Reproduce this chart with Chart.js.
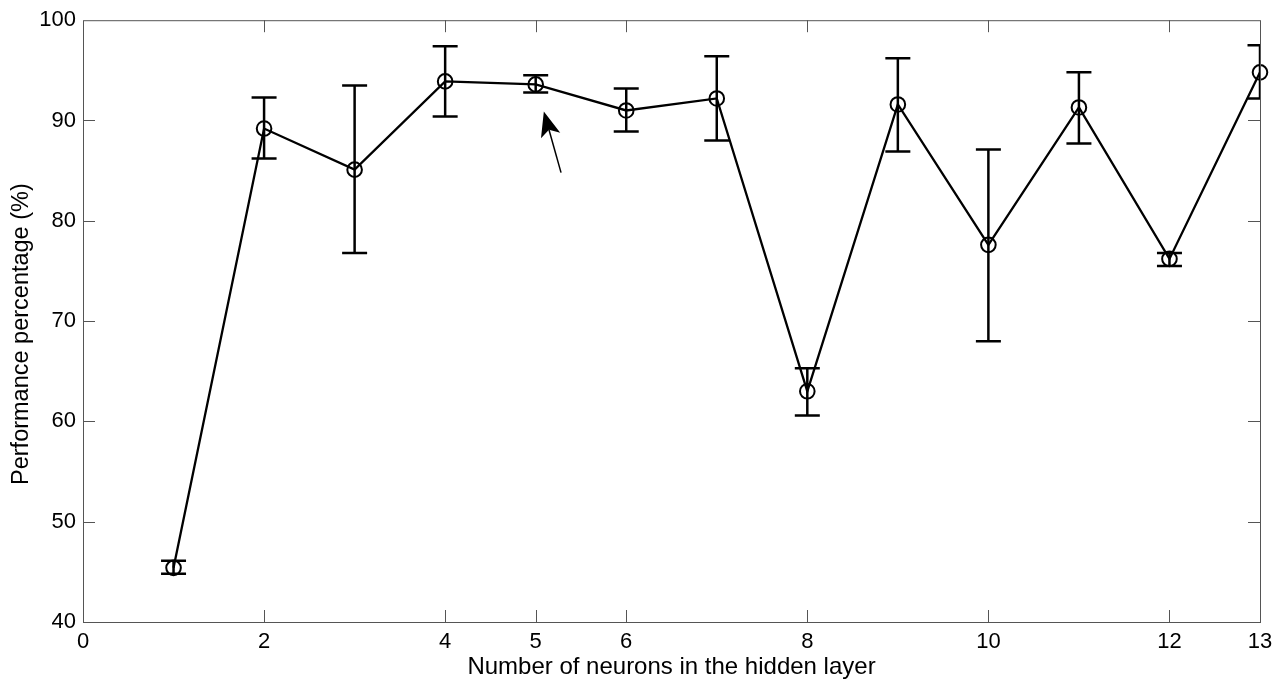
<!DOCTYPE html>
<html>
<head>
<meta charset="utf-8">
<script src="https://cdn.jsdelivr.net/npm/chart.js@4.4.1/dist/chart.umd.min.js"></script>
<style>
  html, body { margin: 0; padding: 0; background: #fff; }
  #wrap { width: 1286px; height: 691px; position: relative; }
</style>
</head>
<body>
<div id="wrap"><canvas id="chart"></canvas></div>
<script>
// data
const neurons = [1, 2, 3, 4, 5, 6, 7, 8, 9, 10, 11, 12, 13];
const performance = [45.4, 89.2, 85.1, 93.9, 93.6, 91.0, 92.2, 63.0, 91.6, 77.6, 91.3, 76.2, 94.8];
const errUpper = [46.1, 92.3, 93.5, 97.4, 94.5, 93.2, 96.4, 65.3, 96.2, 87.1, 94.8, 76.8, 97.5];
const errLower = [44.8, 86.2, 76.8, 90.4, 92.8, 88.9, 88.0, 60.6, 86.9, 68.0, 87.7, 75.5, 92.2];
const xTicks = [0, 2, 4, 5, 6, 8, 10, 12, 13];
const yTicks = [40, 50, 60, 70, 80, 90, 100];
// annotation arrow (tail -> head), in data units
const arrowTail = [5.28, 84.8];
const arrowHead = [5.09, 90.9];

const FONT = 'Liberation Sans, Arial, sans-serif';
const frameColor = '#555';
const yTitle = 'Performance percentage (%)';

// error bars, drawn under the line and clipped to the axes box
const errorBars = {
  id: 'errorBars',
  beforeDatasetsDraw(chart) {
    const { ctx, chartArea: a, scales: { x, y } } = chart;
    ctx.save();
    ctx.beginPath();
    ctx.rect(a.left, a.top - 1, a.right - a.left, a.bottom - a.top + 2);
    ctx.clip();
    ctx.strokeStyle = '#000';
    ctx.lineWidth = 2.5;
    neurons.forEach((n, i) => {
      const px = x.getPixelForValue(n);
      const top = y.getPixelForValue(errUpper[i]);
      const bot = y.getPixelForValue(errLower[i]);
      const w = 12.5;
      ctx.beginPath();
      ctx.moveTo(px, top); ctx.lineTo(px, bot);
      ctx.moveTo(px - w, top); ctx.lineTo(px + w, top);
      ctx.moveTo(px - w, bot); ctx.lineTo(px + w, bot);
      ctx.stroke();
    });
    ctx.restore();
  }
};

// box around the axes, inward ticks on all four sides, y title and the arrow
const frame = {
  id: 'frame',
  afterDraw(chart) {
    const { ctx, chartArea: a, scales: { x, y } } = chart;
    ctx.save();
    ctx.strokeStyle = frameColor;
    ctx.lineWidth = 1;
    ctx.strokeRect(a.left + 0.5, a.top + 0.5, a.right - a.left, a.bottom - a.top);
    const tl = 12;
    ctx.beginPath();
    x.ticks.forEach(t => {
      const px = Math.round(x.getPixelForValue(t.value)) + 0.5;
      if (t.value === x.min || t.value === x.max) return;
      ctx.moveTo(px, a.bottom); ctx.lineTo(px, a.bottom - tl);
      ctx.moveTo(px, a.top); ctx.lineTo(px, a.top + tl);
    });
    y.ticks.forEach(t => {
      const py = Math.round(y.getPixelForValue(t.value)) + 0.5;
      if (t.value === y.min || t.value === y.max) return;
      ctx.moveTo(a.left, py); ctx.lineTo(a.left + tl, py);
      ctx.moveTo(a.right, py); ctx.lineTo(a.right - tl, py);
    });
    ctx.stroke();

    // y title (sits a bit below the axes centre in the original)
    ctx.save();
    ctx.translate(22, (a.top + a.bottom) / 2 + 13);
    ctx.rotate(-Math.PI / 2);
    ctx.fillStyle = '#000';
    ctx.font = '23.5px ' + FONT;
    ctx.textAlign = 'center';
    ctx.textBaseline = 'middle';
    ctx.fillText(yTitle, 0, 0);
    ctx.restore();

    // arrow
    const x0 = x.getPixelForValue(arrowTail[0]), y0 = y.getPixelForValue(arrowTail[1]);
    const x1 = x.getPixelForValue(arrowHead[0]), y1 = y.getPixelForValue(arrowHead[1]);
    const ang = Math.atan2(y1 - y0, x1 - x0);
    const len = 25, half = 10, notch = 19;
    ctx.strokeStyle = '#000';
    ctx.fillStyle = '#000';
    ctx.lineWidth = 1.5;
    ctx.beginPath();
    ctx.moveTo(x0, y0);
    ctx.lineTo(x1 - Math.cos(ang) * notch, y1 - Math.sin(ang) * notch);
    ctx.stroke();
    ctx.translate(x1, y1);
    ctx.rotate(ang);
    ctx.beginPath();
    ctx.moveTo(0, 0);
    ctx.lineTo(-len, -half);
    ctx.lineTo(-notch, 0);
    ctx.lineTo(-len, half);
    ctx.closePath();
    ctx.fill();
    ctx.restore();
  }
};

new Chart(document.getElementById('chart'), {
  type: 'line',
  data: {
    datasets: [{
      data: neurons.map((n, i) => ({ x: n, y: performance[i] })),
      borderColor: '#000',
      borderWidth: 2.3,
      pointStyle: 'circle',
      pointRadius: 7.3,
      pointBorderWidth: 2,
      pointBorderColor: '#000',
      pointBackgroundColor: 'rgba(0,0,0,0)',
      tension: 0,
      clip: false
    }]
  },
  options: {
    responsive: true,
    maintainAspectRatio: false,
    animation: false,
    events: [],
    layout: { padding: { top: 17, right: 26, left: 0, bottom: 0 } },
    plugins: { legend: { display: false }, tooltip: { enabled: false } },
    scales: {
      x: {
        type: 'linear',
        min: 0,
        max: 13,
        afterBuildTicks: s => { s.ticks = xTicks.map(v => ({ value: v })); },
        afterFit: s => { s.height = 69; },
        grid: { display: false, drawTicks: false },
        border: { display: false },
        ticks: { padding: 7, color: '#000', font: { family: FONT, size: 22 }, autoSkip: false, maxRotation: 0 },
        title: {
          display: true,
          text: 'Number of neurons in the hidden layer',
          color: '#000',
          font: { family: FONT, size: 24 },
          padding: { top: 0, bottom: 9 }
        }
      },
      y: {
        min: 40,
        max: 100,
        afterBuildTicks: s => { s.ticks = yTicks.map(v => ({ value: v })); },
        afterFit: s => { s.width = 83; },
        grid: { display: false, drawTicks: false },
        border: { display: false },
        ticks: { padding: 7, color: '#000', font: { family: FONT, size: 22 } }
      }
    }
  },
  plugins: [errorBars, frame]
});
</script>
</body>
</html>
